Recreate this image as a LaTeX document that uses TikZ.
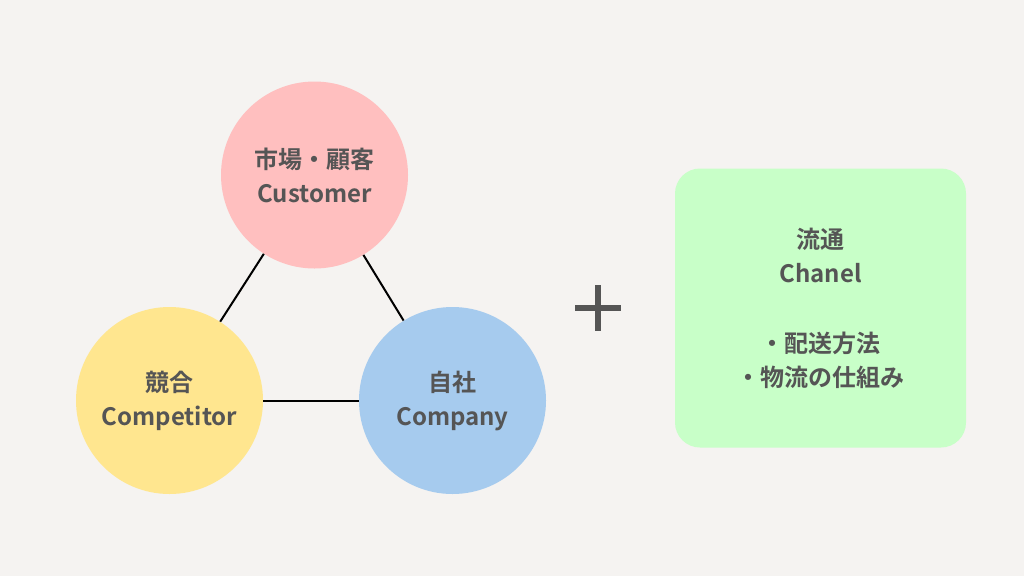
\documentclass[tikz,border=0pt]{standalone}
\usepackage{fontspec}
\setmainfont{Noto Sans CJK JP}[BoldFont={Noto Sans CJK JP Bold}]
\usepackage{xcolor}
\usepackage{tikz}
\usetikzlibrary{positioning}

\definecolor{bgcol}{HTML}{F5F3F1}
\definecolor{txtcol}{HTML}{555555}
\definecolor{custcol}{HTML}{FFBFBF}
\definecolor{compcol}{HTML}{FFE68F}
\definecolor{selfcol}{HTML}{A6CBEE}
\definecolor{chancol}{HTML}{C8FFC8}

\begin{document}
\begin{tikzpicture}[x=1pt, y=-1pt,
  font=\fontsize{24}{34}\selectfont\bfseries,
  ccircle/.style={circle, minimum size=187pt, inner sep=0pt, align=center, text=txtcol},
  link/.style={line width=2pt, black}]
\fill[bgcol] (0,0) rectangle (1024,576);
\useasboundingbox (0,0) rectangle (1024,576);
% three C's
\node[ccircle, fill=custcol] (cust) at (314.5,175) {市場・顧客\\Customer};
\node[ccircle, fill=compcol] (comp) at (169.5,400.5) {競合\\Competitor};
\node[ccircle, fill=selfcol] (self) at (452.5,400.5) {自社\\Company};
\draw[link] (cust) -- (comp);
\draw[link] (cust) -- (self);
\draw[link] (comp) -- (self);
% plus sign
\coordinate (plus) at (598,308);
\draw[line width=6pt, txtcol] ([xshift=-23pt]plus) -- ([xshift=23pt]plus);
\draw[line width=6pt, txtcol] ([yshift=23pt]plus) -- ([yshift=-23pt]plus);
% channel box
\node[rounded corners=25pt, fill=chancol, minimum width=291pt, minimum height=279pt,
  align=center, text=txtcol] (chan) at (820.5,308)
  {流通\\Chanel\\[36pt]・配送方法\\・物流の仕組み};
\end{tikzpicture}
\end{document}
